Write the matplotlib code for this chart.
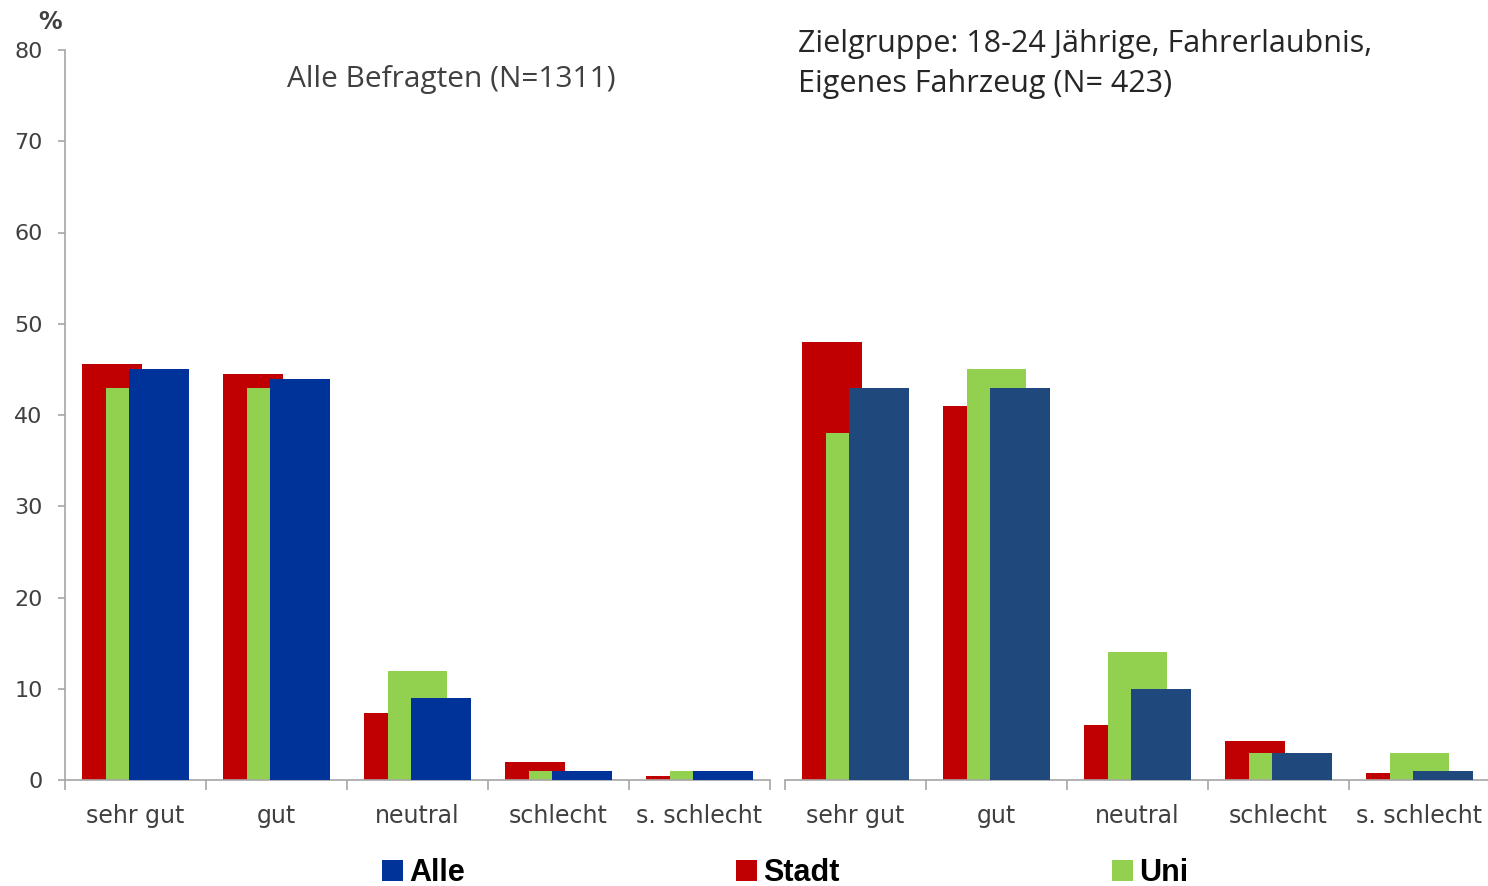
import matplotlib.pyplot as plt
import numpy as np
from matplotlib.patches import Patch

categories = ["sehr gut", "gut", "neutral", "schlecht", "s. schlecht"]

# Alle Befragten (N=1311)
left_stadt = [45.6, 44.5, 7.3, 2.0, 0.4]
left_uni = [43.0, 43.0, 12.0, 1.0, 1.0]
left_alle = [45.0, 44.0, 9.0, 1.0, 1.0]

# Zielgruppe (N=423)
right_stadt = [48.0, 41.0, 6.0, 4.3, 0.8]
right_uni = [38.0, 45.0, 14.0, 3.0, 3.0]
right_alle = [43.0, 43.0, 10.0, 3.0, 1.0]

yticks = [0, 10, 20, 30, 40, 50, 60, 70, 80]

RED = "#C00000"
GREEN = "#92D050"
BLUE_LEFT = "#003399"
BLUE_RIGHT = "#1F497D"
GRID = "#A6A6A6"
TEXT = "#404040"


def draw_panel(ax, stadt, uni, alle, blue, show_y):
    x = np.arange(len(categories)) + 0.5
    w = 0.42
    ax.bar(x - 0.167, stadt, w, color=RED, zorder=1)
    ax.bar(x, uni, w, color=GREEN, zorder=2)
    ax.bar(x + 0.167, alle, w, color=blue, zorder=3)

    ax.set_xlim(0, len(categories))
    ax.set_ylim(0, 80)
    ax.set_xticks(np.arange(len(categories) + 1))
    ax.set_xticklabels([])
    ax.set_xticks(x, minor=True)
    ax.set_xticklabels(categories, minor=True, fontsize=17, color=TEXT,
                       family="DejaVu Sans")
    ax.tick_params(axis="x", which="major", length=7, width=1.2, color=GRID)
    ax.tick_params(axis="x", which="minor", length=0, pad=17)

    for s in ("top", "right"):
        ax.spines[s].set_visible(False)
    ax.spines["bottom"].set_color(GRID)
    ax.spines["bottom"].set_linewidth(1.2)
    if show_y:
        ax.spines["left"].set_color(GRID)
        ax.spines["left"].set_linewidth(1.2)
        ax.set_yticks(yticks)
        ax.set_yticklabels([str(v) for v in yticks], fontsize=16, color=TEXT,
                           family="DejaVu Sans")
        ax.tick_params(axis="y", length=5, width=1.2, color=GRID, pad=11)
    else:
        ax.spines["left"].set_visible(False)
        ax.set_yticks([])


fig = plt.figure(figsize=(14.88, 8.86), dpi=100)
ax1 = fig.add_axes([65 / 1488, 1 - 780 / 886, 705 / 1488, 730 / 886])
ax2 = fig.add_axes([785 / 1488, 1 - 780 / 886, 705 / 1488, 730 / 886])

draw_panel(ax1, left_stadt, left_uni, left_alle, BLUE_LEFT, True)
draw_panel(ax2, right_stadt, right_uni, right_alle, BLUE_RIGHT, False)

fig.text(50 / 1488, 1 - 22 / 886, "%", ha="center", va="center", fontsize=17,
         fontweight="bold", color=TEXT, family="DejaVu Sans")

fig.text(451 / 1488, 1 - 80 / 886, "Alle Befragten (N=1311)", ha="center", va="center",
         fontsize=21.5, color=TEXT, family="Open Sans")
fig.text(798 / 1488, 1 - 64 / 886,
         "Zielgruppe: 18-24 Jährige, Fahrerlaubnis,\nEigenes Fahrzeug (N= 423)",
         ha="left", va="center", fontsize=22, color="#262626", family="Open Sans",
         linespacing=1.4)

legend_items = [("Alle", BLUE_LEFT, 382), ("Stadt", RED, 736), ("Uni", GREEN, 1112)]
for label, color, px in legend_items:
    fig.legend(handles=[Patch(facecolor=color, label=label)], loc="center left",
               bbox_to_anchor=(px / 1488, 1 - 873 / 886), frameon=False,
               handlelength=0.7, handleheight=0.7, handletextpad=0.2,
               borderpad=0, borderaxespad=0,
               prop={"family": "Liberation Sans", "weight": "bold", "size": 22})

fig.savefig("out.png", dpi=100)
